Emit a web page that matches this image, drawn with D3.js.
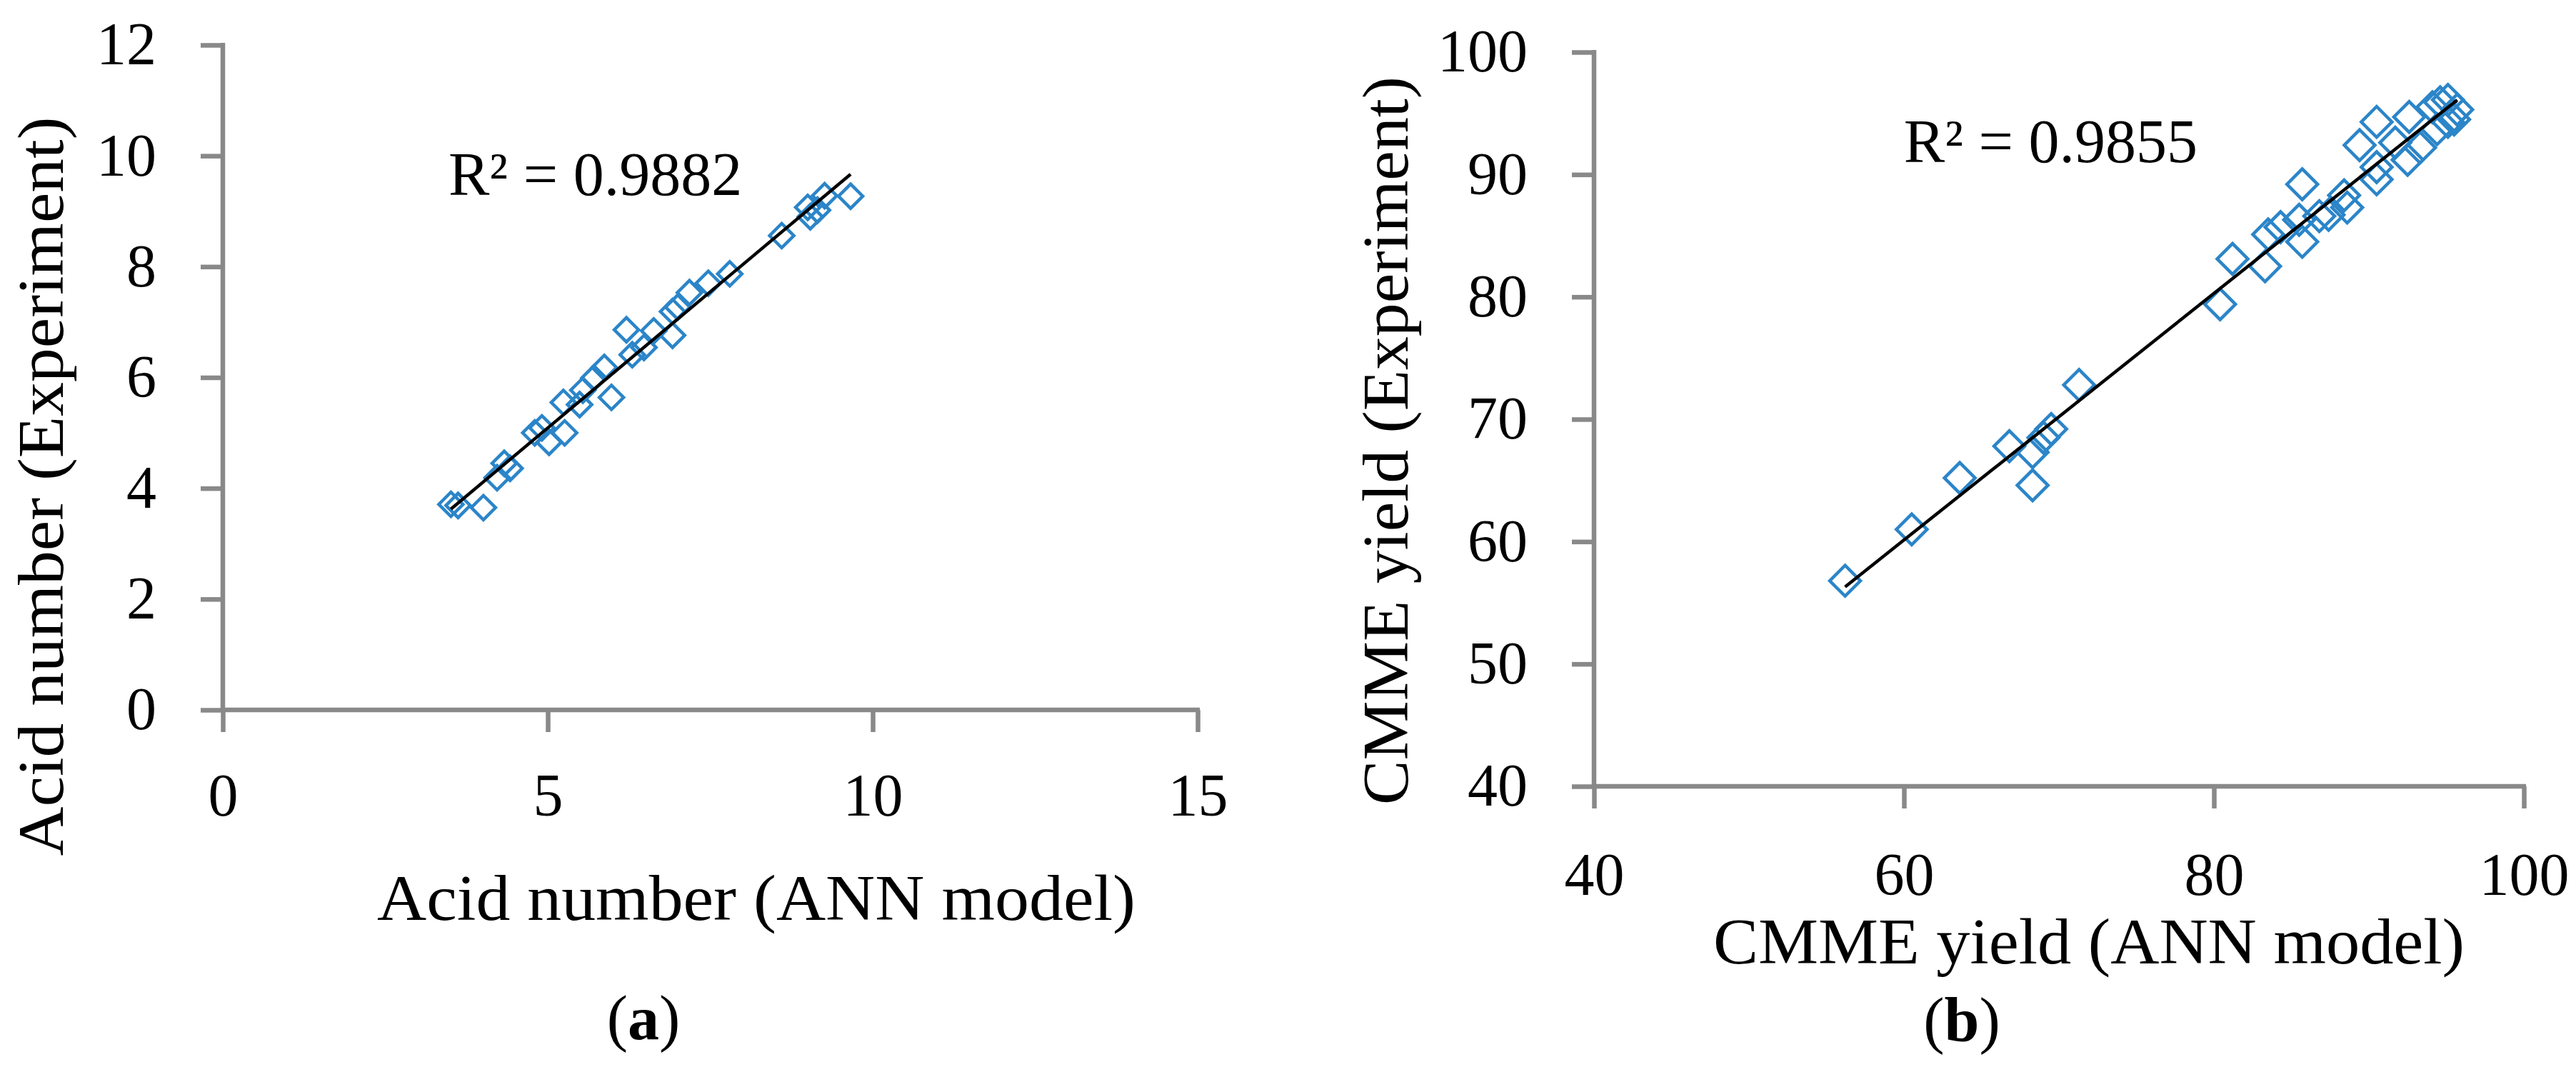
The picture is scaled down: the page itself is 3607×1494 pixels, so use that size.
<!DOCTYPE html>
<html>
<head>
<meta charset="utf-8">
<script src="https://cdn.jsdelivr.net/npm/d3@7"></script>
<style>
  body { margin: 0; background: #fff; }
  text { font-family: "Liberation Serif", "Times New Roman", serif; fill: #000; }
</style>
</head>
<body>
<div id="chart"></div>
<script>
// panel (a): acid number, ANN model vs experiment
var acidModel = [3.51, 3.62, 4.01, 4.22, 4.33, 4.42, 4.80, 4.91, 5.02, 5.26, 5.24, 5.49, 5.54, 5.71, 5.87, 5.98,
                 6.21, 6.30, 6.48, 6.63, 6.92, 6.92, 7.00, 7.18, 7.47, 7.80, 8.60, 9.00, 9.04, 9.15, 9.26, 9.66];
var acidExp   = [3.71, 3.69, 3.65, 4.19, 4.45, 4.36, 5.00, 5.09, 4.83, 5.00, 5.55, 5.51, 5.77, 5.99, 6.18, 5.64,
                 6.86, 6.41, 6.54, 6.84, 6.76, 7.19, 7.27, 7.53, 7.70, 7.87, 8.56, 9.07, 8.90, 9.02, 9.28, 9.27];
var acidXTicks = [0, 5, 10, 15];
var acidYTicks = [0, 2, 4, 6, 8, 10, 12];

// panel (b): CMME yield, ANN model vs experiment
var yieldModel = [56.2, 60.5, 63.6, 66.8, 68.3, 68.3, 69.0, 69.5, 71.3, 80.4, 81.2, 83.3, 83.5, 84.3, 85.5, 85.7, 85.7, 86.8,
                  87.4, 88.4, 88.6, 89.4, 90.5, 90.5, 90.5, 91.7, 92.5, 92.6, 93.3, 94.1, 94.4, 94.6, 95.1, 95.1, 95.5, 95.7];
var yieldExp   = [56.8, 61.0, 65.2, 67.8, 67.3, 64.6, 68.5, 69.2, 72.8, 79.4, 83.1, 82.5, 85.1, 85.7, 86.3, 84.5, 89.2, 86.6,
                  86.7, 88.3, 87.3, 92.4, 89.6, 90.6, 94.3, 92.6, 91.2, 94.7, 92.2, 95.5, 93.7, 95.9, 96.1, 94.3, 94.5, 95.3];
var yieldXTicks = [40, 60, 80, 100];
var yieldYTicks = [40, 50, 60, 70, 80, 90, 100];

var r2Labels = ["R\u00b2 = 0.9882", "R\u00b2 = 0.9855"];
var xTitles = ["Acid number (ANN model)", "CMME yield (ANN model)"];
var yTitles = ["Acid number (Experiment)", "CMME yield (Experiment)"];
var captions = ["a", "b"];

var W = 3607, H = 1494;
var axisColor = "#898989";
var markColor = "#2b85c8";

var svg = d3.select("#chart").append("svg")
    .attr("width", W)
    .attr("height", H);

// least squares fit for the trendline
function fit(xs, ys) {
    var n = xs.length;
    var mx = d3.mean(xs), my = d3.mean(ys);
    var sxy = 0, sxx = 0;
    for (var i = 0; i < n; i++) {
        sxy += (xs[i] - mx) * (ys[i] - my);
        sxx += (xs[i] - mx) * (xs[i] - mx);
    }
    var b = sxy / sxx;
    return { b: b, a: my - b * mx };
}

function drawPanel(p) {
    var x = d3.scaleLinear().domain(p.xDomain).range([p.left, p.right]);
    var y = d3.scaleLinear().domain(p.yDomain).range([p.bottom, p.top]);
    var g = svg.append("g");

    // axes
    var xAxis = d3.axisBottom(x).tickValues(p.xTicks).tickSize(31).tickSizeOuter(0).tickPadding(p.xPad);
    var yAxis = d3.axisLeft(y).tickValues(p.yTicks).tickSize(31).tickSizeOuter(0).tickPadding(62);

    var gx = g.append("g").attr("transform", "translate(0," + p.bottom + ")").call(xAxis);
    var gy = g.append("g").attr("transform", "translate(" + p.left + ",0)").call(yAxis);
    [gx, gy].forEach(function(a) {
        a.selectAll("path, line").attr("stroke", axisColor).attr("stroke-width", 6.5);
        a.selectAll("text").attr("font-size", 84).attr("fill", "#000")
            .style("font-family", "'Liberation Serif', serif");
    });
    gx.select(".domain").attr("d", "M" + (p.left - 3) + ",0H" + (p.right + 3));
    gy.select(".domain").attr("d", "M0," + (p.top - 3) + "V" + (p.bottom + 3));

    // markers
    var pts = p.xs.map(function(v, i) { return [v, p.ys[i]]; });
    var side = p.half * Math.SQRT2;
    g.selectAll("path.pt")
        .data(pts)
        .enter()
        .append("path")
        .attr("class", "pt")
        .attr("d", d3.symbol(d3.symbolSquare, side * side)())
        .attr("transform", function(d) {
            return "translate(" + x(d[0]) + "," + y(d[1]) + ") rotate(45)";
        })
        .attr("fill", "none")
        .attr("stroke", markColor)
        .attr("stroke-width", 4.5);

    // trendline over the data range
    var f = fit(p.xs, p.ys);
    var x0 = d3.min(p.xs), x1 = d3.max(p.xs);
    g.append("line")
        .attr("x1", x(x0)).attr("y1", y(f.a + f.b * x0))
        .attr("x2", x(x1)).attr("y2", y(f.a + f.b * x1))
        .attr("stroke", "#000")
        .attr("stroke-width", 4.5);

    g.append("text")
        .attr("x", p.r2x).attr("y", p.r2y)
        .attr("text-anchor", p.r2anchor)
        .attr("font-size", 86)
        .text(p.r2);

    g.append("text")
        .attr("x", p.xtX).attr("y", p.xtY)
        .attr("text-anchor", "middle")
        .attr("font-size", 90)
        .attr("textLength", p.xtLen)
        .attr("lengthAdjust", "spacingAndGlyphs")
        .text(p.xTitle);

    g.append("text")
        .attr("transform", "translate(" + p.ytX + "," + p.ytY + ") rotate(-90)")
        .attr("text-anchor", "middle")
        .attr("font-size", 90)
        .attr("textLength", p.ytLen)
        .attr("lengthAdjust", "spacingAndGlyphs")
        .text(p.yTitle);

    var cap = g.append("text")
        .attr("x", p.capX).attr("y", p.capY)
        .attr("text-anchor", "middle")
        .attr("font-size", 88);
    cap.append("tspan").text("(");
    cap.append("tspan").attr("font-weight", "bold").text(p.caption);
    cap.append("tspan").text(")");
}

drawPanel({
    xs: acidModel, ys: acidExp, xDomain: [0, 15], yDomain: [0, 12],
    xTicks: acidXTicks, yTicks: acidYTicks,
    left: 312, right: 1677, top: 63, bottom: 994, xPad: 57, half: 17,
    r2: r2Labels[0], r2x: 628, r2y: 273, r2anchor: "start",
    xTitle: xTitles[0], xtX: 1059, xtY: 1288, xtLen: 1062,
    yTitle: yTitles[0], ytX: 88, ytY: 681, ytLen: 1035,
    caption: captions[0], capX: 901, capY: 1455
});

drawPanel({
    xs: yieldModel, ys: yieldExp, xDomain: [40, 100], yDomain: [40, 100],
    xTicks: yieldXTicks, yTicks: yieldYTicks,
    left: 2232, right: 3534, top: 73, bottom: 1101, xPad: 61, half: 21.5,
    r2: r2Labels[1], r2x: 3077, r2y: 227, r2anchor: "end",
    xTitle: xTitles[1], xtX: 2925, xtY: 1349, xtLen: 1052,
    yTitle: yTitles[1], ytX: 1971, ytY: 617, ytLen: 1020,
    caption: captions[1], capX: 2747, capY: 1458
});
</script>
</body>
</html>
